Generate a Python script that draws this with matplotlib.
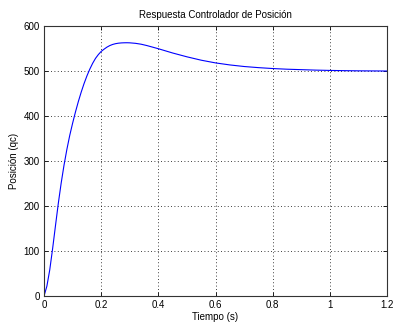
import matplotlib
matplotlib.use("Agg")
import matplotlib.pyplot as plt

# Step response
tiempo = [0, 0.01, 0.02, 0.03, 0.04, 0.05, 0.06, 0.07, 0.08, 0.09,
          0.10, 0.11, 0.12, 0.13, 0.14, 0.15, 0.16, 0.17, 0.18, 0.19,
          0.20, 0.21, 0.22, 0.23, 0.24, 0.25, 0.26, 0.27, 0.28, 0.29,
          0.30, 0.32, 0.34, 0.36, 0.38, 0.40, 0.45, 0.50, 0.55, 0.60,
          0.65, 0.70, 0.75, 0.80, 0.85, 0.90, 0.95, 1.00, 1.05, 1.10,
          1.15, 1.20]
posicion = [0, 22, 58, 105, 156, 206, 251, 291, 326, 357,
            384, 409, 432, 453, 472, 489, 504, 517, 528, 536.5,
            543.5, 548.5, 553, 556.5, 559, 560.7, 561.8, 562.4, 562.7, 562.8,
            562.6, 561.5, 559.5, 556.5, 553, 549.5, 540, 531.5, 524, 518,
            513.5, 510, 507.5, 505.5, 504, 503, 502, 501.3, 500.8, 500.4,
            500.2, 500]

xticks = [0, 0.2, 0.4, 0.6, 0.8, 1, 1.2]
xticklabels = ["0", "0.2", "0.4", "0.6", "0.8", "1", "1.2"]
yticks = [0, 100, 200, 300, 400, 500, 600]

plt.rcParams["font.family"] = ["Liberation Sans", "DejaVu Sans"]
plt.rcParams["font.size"] = 7

fig = plt.figure(figsize=(3.93, 3.25), dpi=100)
ax = fig.add_axes([0.112, 0.089, 0.873, 0.831])

ax.plot(tiempo, posicion, color="#0000ff", linewidth=0.8)

ax.set_xlim(0, 1.2)
ax.set_ylim(0, 600)
ax.set_xticks(xticks)
ax.set_xticklabels(xticklabels)
ax.set_yticks(yticks)
ax.grid(True, color="black", linestyle=(0, (1, 3)), linewidth=0.6)
ax.tick_params(direction="in", length=3, width=0.6, top=True, right=True, pad=3)
for s in ax.spines.values():
    s.set_linewidth(0.8)
    s.set_color("#333333")

ax.set_title("Respuesta Controlador de Posición", fontsize=7, pad=6)
ax.set_xlabel("Tiempo (s)", labelpad=1)
ax.set_ylabel("Posición (qc)", labelpad=3)

fig.savefig("out.png", dpi=100)
